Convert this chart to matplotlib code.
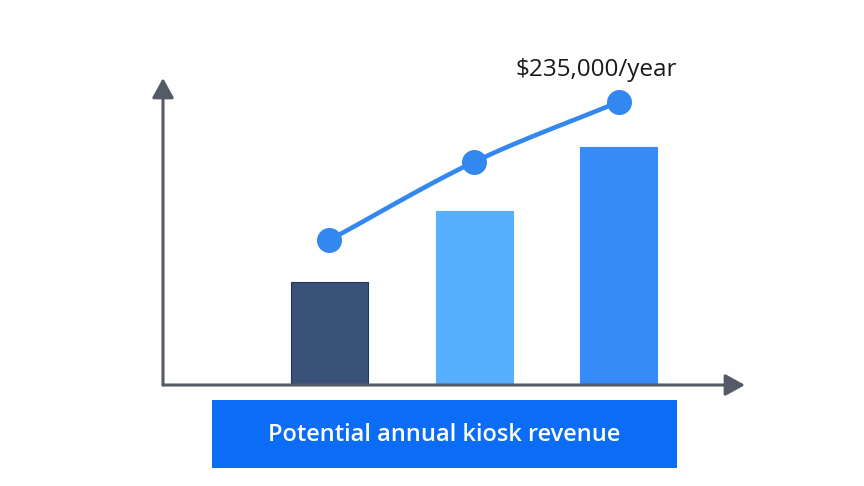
import numpy as np
import matplotlib
matplotlib.use("Agg")
import matplotlib.pyplot as plt
from matplotlib.patches import Rectangle

# ---- data ----
categories = ["Option A", "Option B", "Option C"]
bar_values = [103, 174, 238]          # relative revenue (bars)
line_values = [145, 223, 283]         # relative revenue trend (line)
bar_colors = ["#3A5278", "#58AEFF", "#368BF8"]
top_label = "$235,000/year"
box_label = "Potential annual kiosk revenue"

W, H = 864, 486
fig = plt.figure(figsize=(W / 100, H / 100), dpi=100)
fig.patch.set_facecolor("#FEFEFE")

# axes placed so that the arrow axes frame it
x0, y0, x1, y1 = 163, 385, 745, 78
ax = fig.add_axes([x0 / W, 1 - y0 / H, (x1 - x0) / W, (y0 - y1) / H])
ax.set_xlim(-1.152, 2.875)
ax.set_ylim(0, 307)
ax.axis("off")

xs = np.arange(len(categories))
ax.bar(xs, bar_values, width=0.533, color=bar_colors,
       edgecolor=["#223858", "#58AEFF", "#368BF8"], linewidth=0.8, zorder=2)

# smooth line (Catmull-Rom through the points)
px = np.array(xs, dtype=float)
py = np.array(line_values, dtype=float)
P = np.column_stack([px, py])
ext = np.vstack([2 * P[0] - P[1], P, 2 * P[-1] - P[-2]])
curve = []
for i in range(1, len(ext) - 2):
    p0, p1, p2, p3 = ext[i - 1], ext[i], ext[i + 1], ext[i + 2]
    t = np.linspace(0, 1, 40)[:, None]
    seg = 0.5 * ((2 * p1) + (-p0 + p2) * t + (2 * p0 - 5 * p1 + 4 * p2 - p3) * t ** 2
                 + (-p0 + 3 * p1 - 3 * p2 + p3) * t ** 3)
    curve.append(seg)
curve = np.vstack(curve)
ax.plot(curve[:, 0], curve[:, 1], color="#3388F0", lw=3.3, solid_capstyle="round", zorder=3)
ax.plot(px, py, "o", color="#3388F0", markersize=17, zorder=4)

# axes arrows
axis_col = "#555B66"
for tip in [(0, 1), (1, 0)]:
    ax.annotate("", xy=tip, xytext=(0, 0), xycoords="axes fraction",
                arrowprops=dict(arrowstyle="-|>,head_length=0.4,head_width=0.22",
                                mutation_scale=30, color=axis_col, lw=2.2,
                                shrinkA=0, shrinkB=0), annotation_clip=False)

# top label
fig.text(596 / W, 1 - 70 / H, top_label, ha="center", va="center",
         fontsize=17.5, color="#1A1A1A", family=["Open Sans", "DejaVu Sans"])

# bottom label box
fig.patches.append(Rectangle((212 / W, 1 - 468 / H), (677 - 212) / W, (468 - 400) / H,
                             transform=fig.transFigure, facecolor="#0B6CF6",
                             edgecolor="none"))
fig.text(444.5 / W, 1 - 435 / H, box_label, ha="center", va="center",
         fontsize=17, color="white", fontweight="semibold",
         family=["Open Sans", "DejaVu Sans"])

fig.savefig("out.png", dpi=100, facecolor=fig.get_facecolor())
